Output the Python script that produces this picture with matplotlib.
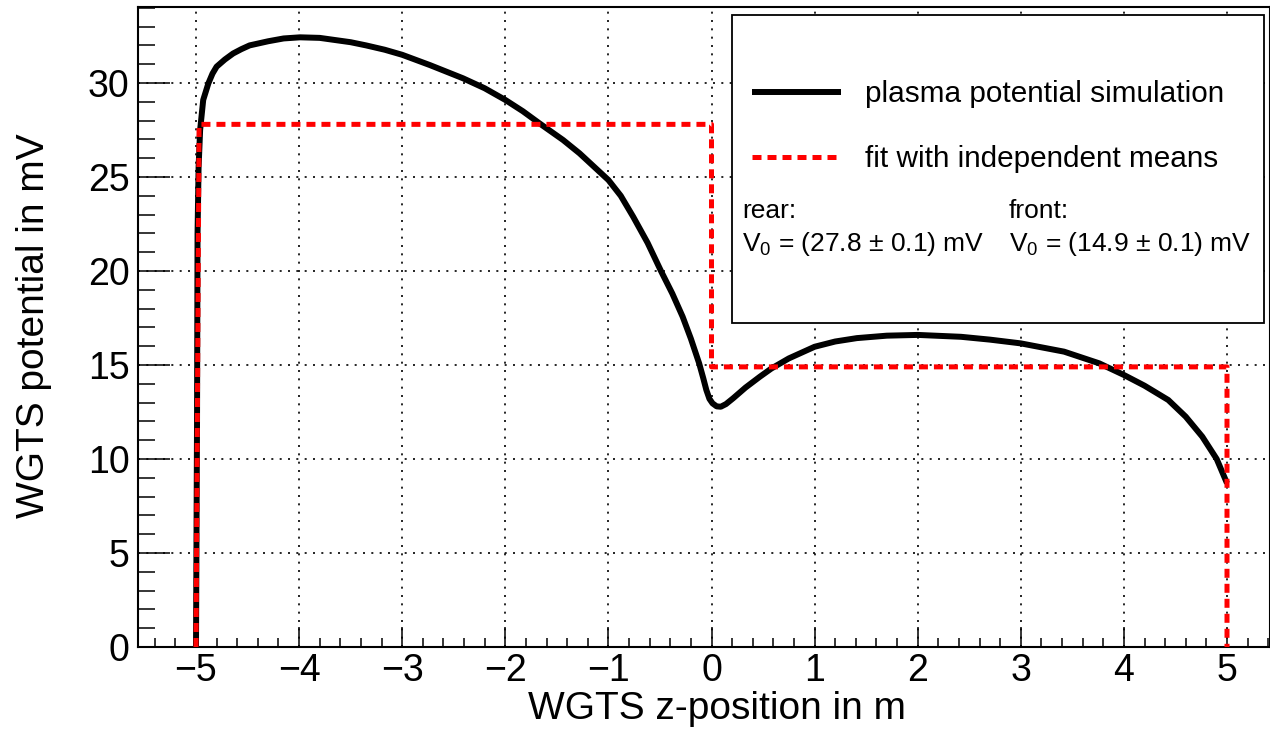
import matplotlib
matplotlib.use("Agg")
import matplotlib.pyplot as plt
from matplotlib.patches import Rectangle
from matplotlib.ticker import MultipleLocator

plt.rcParams['font.family'] = ['Liberation Sans', 'DejaVu Sans']
plt.rcParams['mathtext.fontset'] = 'custom'
plt.rcParams['mathtext.rm'] = 'Liberation Sans'
plt.rcParams['mathtext.it'] = 'Liberation Sans:italic'
plt.rcParams['axes.unicode_minus'] = True

# Simulated plasma potential along the WGTS (z in m, potential in mV)
z_sim = [-5.0, -4.99, -4.985, -4.975, -4.96, -4.93, -4.88, -4.84, -4.80, -4.72,
         -4.64, -4.56, -4.48, -4.30, -4.15, -3.99, -3.80, -3.67, -3.50, -3.35,
         -3.17, -3.0, -2.73, -2.41, -2.20, -2.0, -1.83, -1.67, -1.44, -1.28,
         -1.0, -0.88, -0.76, -0.62, -0.49, -0.38, -0.28, -0.20, -0.12, -0.08,
         -0.05, -0.02, 0.01, 0.05, 0.09, 0.14, 0.21, 0.33, 0.47, 0.58,
         0.75, 1.0, 1.20, 1.41, 1.70, 2.0, 2.42, 2.70, 3.0, 3.42,
         3.76, 4.0, 4.20, 4.43, 4.60, 4.76, 4.90, 5.0]
v_sim = [0.0, 12.0, 22.0, 25.5, 27.5, 29.1, 29.98, 30.5, 30.87, 31.25,
         31.57, 31.8, 32.0, 32.22, 32.37, 32.43, 32.4, 32.3, 32.17, 32.0,
         31.77, 31.5, 30.95, 30.25, 29.72, 29.1, 28.5, 27.86, 26.97, 26.26,
         24.84, 24.0, 22.89, 21.5, 20.0, 18.8, 17.57, 16.4, 15.09, 14.3,
         13.67, 13.2, 12.96, 12.8, 12.78, 12.92, 13.23, 13.8, 14.38, 14.81,
         15.35, 15.97, 16.25, 16.43, 16.56, 16.6, 16.5, 16.35, 16.15, 15.71,
         15.09, 14.47, 13.9, 13.14, 12.25, 11.19, 10.0, 8.71]

# Fit with independent means for rear and front halves
rear_mean, rear_err = 27.8, 0.1
front_mean, front_err = 14.9, 0.1
z_fit = [-5.0, -4.97, 0.0, 0.0, 5.0, 5.0]
v_fit = [0.0, rear_mean, rear_mean, front_mean, front_mean, 0.0]

W, H = 1270, 729
fig = plt.figure(figsize=(W / 100, H / 100), dpi=100)
ax_l, ax_r, ax_t, ax_b = 138, 1270, 7, 647
ax = fig.add_axes([ax_l / W, 1 - ax_b / H, (ax_r - ax_l) / W, (ax_b - ax_t) / H])

px_per_m = 103.1
ax.set_xlim(-5 - (196 - ax_l) / px_per_m, -5 + (ax_r - 196) / px_per_m)
ax.set_ylim(0, (ax_b - ax_t) / 18.8)

ax.plot(z_sim, v_sim, color='black', lw=4.3, solid_capstyle='butt',
        solid_joinstyle='round', zorder=3, label='plasma potential simulation')
ax.plot(z_fit, v_fit, color='#ff0000', lw=3.6, linestyle=(0, (1.8, 1.2)),
        dash_capstyle='butt', zorder=4, label='fit with independent means')

# axes styling
ax.xaxis.set_major_locator(MultipleLocator(1))
ax.xaxis.set_minor_locator(MultipleLocator(0.2))
ax.yaxis.set_major_locator(MultipleLocator(5))
ax.yaxis.set_minor_locator(MultipleLocator(1))
ax.tick_params(axis='both', which='both', direction='in', top=False, right=False,
               width=1.1, colors='black', labelsize=27)
ax.tick_params(axis='x', which='major', length=14.4, pad=4)
ax.tick_params(axis='x', which='minor', length=6.7)
ax.tick_params(axis='y', which='major', length=23, pad=6)
ax.tick_params(axis='y', which='minor', length=12)
for sp in ax.spines.values():
    sp.set_linewidth(1.5)
ax.grid(True, which='major', color='black', lw=1.2, linestyle=(0, (1.2, 3.8)), zorder=1)
ax.set_axisbelow(True)

ax.set_xlabel('WGTS z-position in m', fontsize=28)
ax.set_ylabel('WGTS potential in mV', fontsize=28)
ax.xaxis.set_label_coords((717 - ax_l) / (ax_r - ax_l), (ax_b - 709) / (ax_b - ax_t))
ax.xaxis.label.set_va('center')
ax.yaxis.set_label_coords((34 - ax_l) / (ax_r - ax_l), (ax_b - 326) / (ax_b - ax_t))
ax.yaxis.label.set_va('center')


def fx(px):
    return (px - ax_l) / (ax_r - ax_l)


def fy(py):
    return (ax_b - py) / (ax_b - ax_t)


# legend frame
box = Rectangle((fx(732), fy(323)), fx(1264) - fx(732), fy(15) - fy(323),
                transform=ax.transAxes, facecolor='white', edgecolor='black',
                lw=1.3, zorder=10)
ax.add_patch(box)
leg = ax.legend(loc='upper left', bbox_to_anchor=(fx(752), fy(80)), frameon=False,
                fontsize=21.4, handlelength=3.0, handletextpad=0.8,
                labelspacing=1.25, borderpad=0, borderaxespad=0)
leg.set_zorder(11)

txt_kw = dict(transform=ax.transAxes, fontsize=19, zorder=12, va='baseline', ha='left')
ax.text(fx(742), fy(218), 'rear:', **txt_kw)
ax.text(fx(742), fy(251), rf'V$_0$ = ({rear_mean:.1f} ± {rear_err:.1f}) mV', **txt_kw)
ax.text(fx(1009), fy(218), 'front:', **txt_kw)
ax.text(fx(1009), fy(251), rf'V$_0$ = ({front_mean:.1f} ± {front_err:.1f}) mV', **txt_kw)

fig.savefig('out.png', dpi=100)
